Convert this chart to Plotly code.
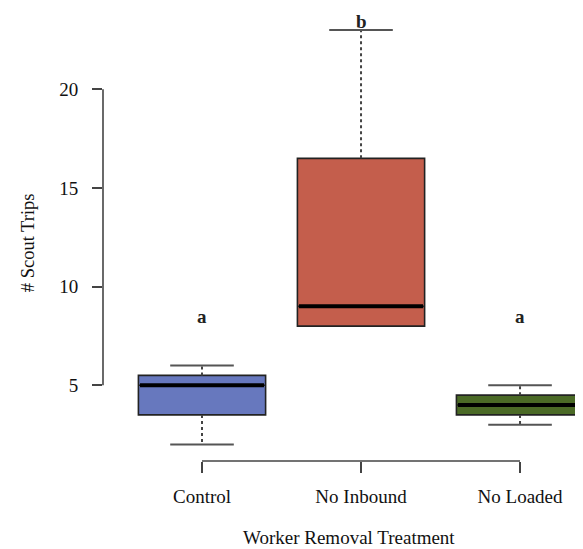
import plotly.graph_objects as go

# ---- data ----
categories = ["Control", "No Inbound", "No Loaded"]
mins = [2.0, 8.0, 3.0]
q1s = [3.5, 8.0, 3.5]
medians = [5.0, 9.0, 4.0]
q3s = [5.5, 16.5, 4.5]
maxs = [6.0, 23.0, 5.0]
letters = ["a", "b", "a"]
colors = ["#6778BE", "#C45E4C", "#4B6A26"]
y_ticks = [5, 10, 15, 20]

FONT = "Liberation Serif, Times New Roman, serif"
positions = list(range(1, len(categories) + 1))
box_w = 0.8
cap_w = 0.4

fig = go.Figure()

for i, cat in enumerate(categories):
    p = positions[i]
    # box body (no built-in whiskers)
    fig.add_trace(go.Box(
        x=[p], q1=[q1s[i]], median=[medians[i]], q3=[q3s[i]],
        lowerfence=[q1s[i]], upperfence=[q3s[i]],
        width=box_w, fillcolor=colors[i],
        line=dict(color="#222222", width=1.6),
        whiskerwidth=0, boxpoints=False, hoverinfo="skip",
        showlegend=False, name=cat,
    ))
    # dashed whiskers
    wx, wy = [], []
    if maxs[i] > q3s[i]:
        wx += [p, p, None]
        wy += [q3s[i], maxs[i], None]
    if mins[i] < q1s[i]:
        wx += [p, p, None]
        wy += [q1s[i], mins[i], None]
    fig.add_trace(go.Scatter(
        x=wx, y=wy, mode="lines",
        line=dict(color="#444444", width=2, dash="3px,3px"),
        showlegend=False, hoverinfo="skip",
    ))
    # caps
    cx, cy = [], []
    if maxs[i] > q3s[i]:
        cx += [p - cap_w / 2, p + cap_w / 2, None]
        cy += [maxs[i], maxs[i], None]
    if mins[i] < q1s[i]:
        cx += [p - cap_w / 2, p + cap_w / 2, None]
        cy += [mins[i], mins[i], None]
    fig.add_trace(go.Scatter(
        x=cx, y=cy, mode="lines",
        line=dict(color="#555555", width=2),
        showlegend=False, hoverinfo="skip",
    ))
    # thick median
    fig.add_trace(go.Scatter(
        x=[p - box_w / 2 + 0.01, p + box_w / 2 - 0.01], y=[medians[i], medians[i]],
        mode="lines", line=dict(color="black", width=4),
        showlegend=False, hoverinfo="skip",
    ))

# significance letters
letter_y = [8.5, 23.45, 8.5]
for i, lt in enumerate(letters):
    fig.add_annotation(x=positions[i], y=letter_y[i], text="<b>%s</b>" % lt,
                       showarrow=False, font=dict(family=FONT, size=19, color="#222"),
                       xanchor="center", yanchor="middle")

# axis lines (R style, spanning ticks only)
fig.add_shape(type="line", xref="paper", yref="y", x0=0, x1=0,
              y0=min(y_ticks), y1=max(y_ticks), line=dict(color="#444", width=1.6))
fig.add_shape(type="line", xref="x", yref="paper", x0=positions[0], x1=positions[-1],
              y0=0, y1=0, line=dict(color="#444", width=1.6))

# titles
fig.add_annotation(xref="paper", yref="paper", x=0.5125, y=-0.1678,
                   text="Worker Removal Treatment", showarrow=False,
                   font=dict(family=FONT, size=19, color="#111"),
                   xanchor="center", yanchor="middle")
fig.add_annotation(xref="paper", yref="paper", x=-0.156, y=0.481,
                   text="# Scout Trips", showarrow=False, textangle=-90,
                   font=dict(family=FONT, size=18.5, color="#111"),
                   xanchor="center", yanchor="middle")

fig.update_layout(
    width=575, height=541,
    margin=dict(l=95, r=0, t=0, b=88),
    paper_bgcolor="white", plot_bgcolor="white",
    showlegend=False,
    xaxis=dict(range=[0.3774, 3.396], tickvals=positions, ticktext=categories,
               ticks="outside", ticklen=11, tickwidth=1.6, tickcolor="#444",
               showline=False, showgrid=False, zeroline=False,
               tickfont=dict(family=FONT, size=19, color="#111"),
               ticklabelstandoff=7),
    yaxis=dict(range=[1.163, 24.12], tickvals=y_ticks,
               ticks="outside", ticklen=10, tickwidth=1.6, tickcolor="#444",
               showline=False, showgrid=False, zeroline=False,
               tickfont=dict(family=FONT, size=19, color="#111"),
               ticklabelstandoff=10),
)

fig.write_html("out.html")
